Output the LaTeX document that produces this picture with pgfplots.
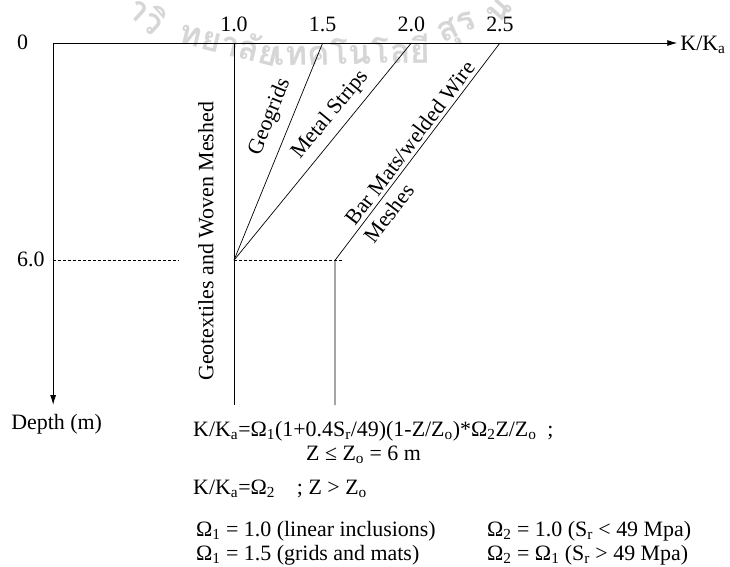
\documentclass[border=0pt]{standalone}
\usepackage{pgfplots}
\pgfplotsset{compat=1.18}
\usepackage{fontspec}
\setmainfont{Liberation Serif}
\newfontfamily\thaifont[Script=Thai]{Loma}
\usetikzlibrary{arrows.meta}
\begin{document}
\begin{tikzpicture}[every node/.style={font=\fontsize{22}{26}\selectfont, inner sep=0pt}]
\path[use as bounding box] (0,0) rectangle (730bp,-567bp);
% watermark
\begin{scope}[every node/.style={font=\thaifont\bfseries\fontsize{34}{36}\selectfont, text=black!16, inner sep=0pt}]
\node[rotate=-42] at (148bp,-14bp) {าวิ};
\node[rotate=-14] at (230bp,-42bp) {ทยาลัย};
\node[rotate=1] at (352bp,-50bp) {เทคโนโลยี};
\node[rotate=24] at (458bp,-30bp) {สุร};
\node[rotate=48] at (506bp,-4bp) {นา};
\end{scope}
\begin{axis}[
  at={(56.7bp,-43bp)}, anchor=origin,
  scale only axis, width=624.1bp, height=362bp,
  xmin=-0.02, xmax=3.5, ymin=0, ymax=10, y dir=reverse,
  hide axis, clip=false,
]
% axes
\addplot[black, line width=0.9bp, -{Latex[length=10bp,width=6bp]}] coordinates {(-0.02,0) (3.5,0)};
\addplot[black, line width=0.9bp, -{Latex[length=10bp,width=6bp]}] coordinates {(-0.02,0) (-0.02,10)};
% design lines
\addplot[black, line width=0.7bp] coordinates {(1,0) (1,10)};
\addplot[black, line width=0.7bp] coordinates {(1,6) (1.5,0)};
\addplot[black, line width=0.7bp] coordinates {(1,6) (2,0)};
\addplot[black, line width=0.7bp] coordinates {(1.57,10) (1.57,6) (2.5,0)};
\addplot[black, line width=0.7bp, dash pattern=on 3bp off 2bp] coordinates {(-0.02,6) (0.69,6)};
\addplot[black, line width=0.7bp, dash pattern=on 3bp off 2bp] coordinates {(1,6) (1.61,6)};
% tick labels
\node[anchor=base] at (axis cs:1,0) [yshift=12bp] {1.0};
\node[anchor=base] at (axis cs:1.5,0) [yshift=12bp] {1.5};
\node[anchor=base] at (axis cs:2,0) [yshift=12bp] {2.0};
\node[anchor=base] at (axis cs:2.5,0) [yshift=12bp] {2.5};
\node[anchor=base west] at (axis cs:-0.224,0) [yshift=-6bp] {0};
\node[anchor=base west] at (axis cs:-0.224,6) [yshift=-6bp] {6.0};
\node[anchor=base west] at (axis cs:3.5,0) [xshift=3bp, yshift=-7bp] {K/K\textsubscript{a}};
\node[anchor=base] at (axis cs:0,10) [yshift=-24bp] {Depth (m)};
% line labels
\node[rotate=90] at (axis cs:0.842,5.48) {Geotextiles and Woven Meshed};
\node[rotate=68] at (axis cs:1.203,2.04) {Geogrids};
\node[rotate=50.5] at (axis cs:1.545,1.98) {Metal Strips};
\node[rotate=52.8] at (axis cs:1.993,2.76) {Bar Mats/welded Wire};
\node[rotate=52.8] at (axis cs:1.874,4.70) {Meshes};
\end{axis}
% equations
\node[anchor=base west] at (193bp,-436bp) {K/K\textsubscript{a}=Ω\textsubscript{1}(1+0.4S\textsubscript{r}/49)(1-Z/Z\textsubscript{o})*Ω\textsubscript{2}Z/Z\textsubscript{o}\ \ ;};
\node[anchor=base west] at (306bp,-460bp) {Z ≤ Z\textsubscript{o} = 6 m};
\node[anchor=base west] at (193bp,-494bp) {K/K\textsubscript{a}=Ω\textsubscript{2}\quad ; Z > Z\textsubscript{o}};
\node[anchor=base west] at (196bp,-536bp) {Ω\textsubscript{1} = 1.0 (linear inclusions)};
\node[anchor=base west] at (487bp,-536bp) {Ω\textsubscript{2} = 1.0 (S\textsubscript{r} < 49 Mpa)};
\node[anchor=base west] at (196bp,-560bp) {Ω\textsubscript{1} = 1.5 (grids and mats)};
\node[anchor=base west] at (487bp,-560bp) {Ω\textsubscript{2} = Ω\textsubscript{1} (S\textsubscript{r} > 49 Mpa)};
\end{tikzpicture}
\end{document}
